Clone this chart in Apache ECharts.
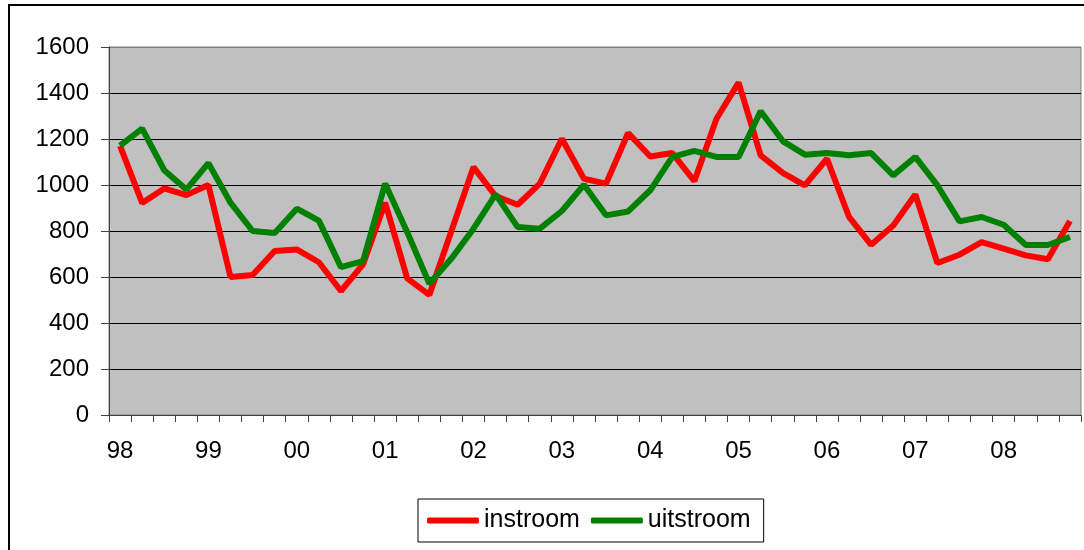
<!DOCTYPE html>
<html>
<head>
<meta charset="utf-8">
<script src="https://cdn.jsdelivr.net/npm/echarts@6/dist/echarts.min.js"></script>
<style>
  html, body { margin: 0; padding: 0; background: #fff; }
  #chart { width: 1084px; height: 550px; }
</style>
</head>
<body>
<div id="chart"></div>
<script>
// jaren (eerste kwartaal krijgt het label)
var years = ['98', '99', '00', '01', '02', '03', '04', '05', '06', '07', '08'];

// kwartaalwaarden, 98 K1 t/m 08 K4
var instroom = [
  1170, 922, 985, 956, 1000, 600, 609, 713, 720, 664, 539, 655, 923, 594, 522,
  800, 1078, 952, 914, 1006, 1201, 1027, 1006, 1226, 1124, 1139, 1017, 1288,
  1445, 1129, 1053, 998, 1114, 861, 740, 824, 959, 661, 697, 752, 723, 694,
  677, 843
];
var uitstroom = [
  1171, 1245, 1064, 980, 1095, 923, 800, 791, 897, 845, 643, 669, 1006, 795, 571,
  680, 810, 959, 817, 810, 887, 1001, 868, 885, 977, 1122, 1148, 1122, 1122,
  1321, 1191, 1132, 1139, 1129, 1139, 1042, 1122, 998, 842, 861, 827, 739,
  739, 774
];

var categories = [];
years.forEach(function (y) {
  for (var q = 1; q <= 4; q++) categories.push(y + ' K' + q);
});

var chart = echarts.init(document.getElementById('chart'));

var option = {
  animation: false,
  textStyle: { fontFamily: 'Liberation Sans, Arial, sans-serif' },
  graphic: [{
    type: 'rect',
    silent: true,
    shape: { x: 9, y: 5, width: 1200, height: 700 },
    style: { fill: 'none', stroke: '#000', lineWidth: 2 }
  }],
  grid: {
    left: 109,
    right: 3,
    top: 47,
    bottom: 135,
    show: true,
    backgroundColor: '#c0c0c0',
    borderColor: '#808080',
    borderWidth: 1
  },
  legend: {
    left: 418,
    top: 499,
    padding: [9, 13, 9, 9],
    itemGap: 11,
    itemWidth: 52,
    itemHeight: 6,
    icon: 'roundRect',
    borderColor: '#000',
    borderWidth: 1,
    textStyle: { fontSize: 25, color: '#000', fontFamily: 'Liberation Sans, Arial, sans-serif' },
    data: ['instroom', 'uitstroom']
  },
  xAxis: {
    type: 'category',
    boundaryGap: true,
    data: categories,
    axisLine: { lineStyle: { color: '#404040', width: 1 } },
    axisTick: { show: true, interval: 0, length: 7, lineStyle: { color: '#404040' } },
    axisLabel: {
      interval: 3,
      margin: 24,
      fontSize: 24,
      color: '#000',
      formatter: function (v) { return v.slice(0, 2); }
    },
    splitLine: { show: false }
  },
  yAxis: {
    type: 'value',
    min: 0,
    max: 1600,
    interval: 200,
    axisLine: { show: true, lineStyle: { color: '#404040', width: 1 } },
    axisTick: { show: true, length: 8, lineStyle: { color: '#404040' } },
    axisLabel: {
      margin: 20,
      fontSize: 24,
      color: '#000',
      formatter: function (v) { return String(v); }
    },
    splitLine: {
      show: true,
      lineStyle: {
        color: ['#000', '#000', '#000', '#000', '#000', '#000', '#000', '#000', '#808080'],
        width: 1
      }
    }
  },
  series: [
    {
      name: 'instroom',
      type: 'line',
      data: instroom,
      symbol: 'none',
      color: '#ff0000',
      lineStyle: { color: '#ff0000', width: 6 }
    },
    {
      name: 'uitstroom',
      type: 'line',
      data: uitstroom,
      symbol: 'none',
      color: '#008000',
      lineStyle: { color: '#008000', width: 6 }
    }
  ]
};

chart.setOption(option);
</script>
</body>
</html>
